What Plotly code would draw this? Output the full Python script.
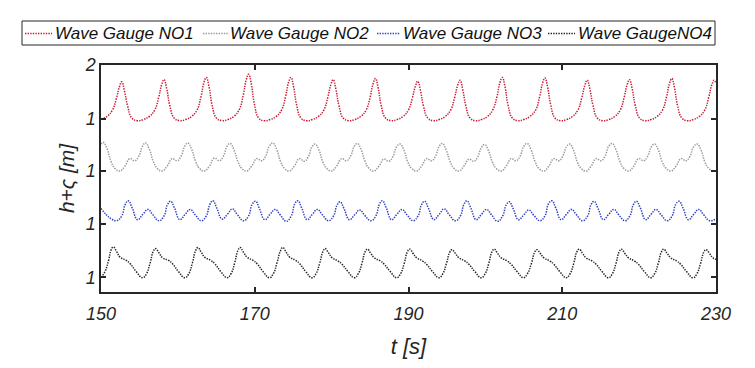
import plotly.graph_objects as go

# ---------------- data ----------------
NO1 = [
    (150.0, 1.00), (150.8, 1.05), (151.5, 1.17), (152.0, 1.38), (152.4, 1.60), (152.7, 1.69),
    (153.05, 1.52), (153.45, 1.25), (154.0, 1.02), (154.7, 0.97), (155.5, 0.99), (156.3, 1.05),
    (157.0, 1.17), (157.5, 1.40), (157.9, 1.64), (158.2, 1.73),
    (158.55, 1.56), (158.95, 1.25), (159.5, 1.02), (160.2, 0.97), (161.0, 0.99), (161.8, 1.05),
    (162.5, 1.17), (163.0, 1.41), (163.4, 1.68), (163.7, 1.77),
    (164.05, 1.60), (164.45, 1.26), (165.0, 1.02), (165.7, 0.97), (166.5, 0.99), (167.3, 1.05),
    (168.0, 1.18), (168.5, 1.44), (168.9, 1.73), (169.2, 1.83),
    (169.55, 1.65), (169.95, 1.28), (170.5, 1.02), (171.2, 0.97), (172.0, 0.99), (172.8, 1.05),
    (173.5, 1.17), (174.0, 1.41), (174.4, 1.68), (174.7, 1.77),
    (175.05, 1.60), (175.45, 1.26), (176.0, 1.02), (176.7, 0.97), (177.5, 0.99), (178.3, 1.05),
    (179.0, 1.17), (179.5, 1.40), (179.9, 1.64), (180.2, 1.73),
    (180.55, 1.56), (180.95, 1.25), (181.5, 1.02), (182.2, 0.97), (183.0, 0.99), (183.8, 1.05),
    (184.5, 1.17), (185.0, 1.40), (185.4, 1.66), (185.7, 1.75),
    (186.05, 1.58), (186.45, 1.25), (187.0, 1.02), (187.7, 0.97), (188.5, 0.99), (189.3, 1.05),
    (190.0, 1.17), (190.5, 1.39), (190.9, 1.61), (191.2, 1.70),
    (191.55, 1.53), (191.95, 1.24), (192.5, 1.02), (193.2, 0.97), (194.0, 0.99), (194.8, 1.05),
    (195.5, 1.17), (196.0, 1.40), (196.4, 1.63), (196.7, 1.72),
    (197.05, 1.55), (197.45, 1.25), (198.0, 1.02), (198.7, 0.97), (199.5, 0.99), (200.3, 1.05),
    (201.0, 1.18), (201.5, 1.41), (201.9, 1.68), (202.2, 1.77),
    (202.55, 1.60), (202.95, 1.26), (203.5, 1.02), (204.2, 0.97), (205.0, 0.99), (205.8, 1.05),
    (206.55, 1.17), (207.05, 1.41), (207.45, 1.67), (207.75, 1.76),
    (208.1, 1.59), (208.5, 1.26), (209.05, 1.02), (209.75, 0.97), (210.55, 0.99), (211.35, 1.05),
    (212.05, 1.17), (212.55, 1.40), (212.95, 1.63), (213.25, 1.72),
    (213.6, 1.55), (214.0, 1.25), (214.55, 1.02), (215.25, 0.97), (216.05, 0.99), (216.85, 1.05),
    (217.55, 1.17), (218.05, 1.40), (218.45, 1.64), (218.75, 1.73),
    (219.1, 1.56), (219.5, 1.25), (220.05, 1.02), (220.75, 0.97), (221.55, 0.99), (222.35, 1.05),
    (223.05, 1.17), (223.55, 1.40), (223.95, 1.66), (224.25, 1.75),
    (224.6, 1.58), (225.0, 1.25), (225.55, 1.02), (226.25, 0.97), (227.05, 0.99), (227.85, 1.05),
    (228.55, 1.17), (229.05, 1.40), (229.45, 1.63), (229.75, 1.72), (230.0, 1.66),
]

NO2 = [
    (150.0, 1.50), (150.3, 1.53),
    (150.8, 1.41), (151.3, 1.18), (151.8, 1.05), (152.45, 1.00), (153.1, 1.09), (153.75, 1.23),
    (154.4, 1.19), (154.9, 1.27), (155.4, 1.46), (155.8, 1.52),
    (156.3, 1.40), (156.8, 1.18), (157.3, 1.05), (157.95, 1.00), (158.6, 1.09), (159.25, 1.23),
    (159.9, 1.19), (160.4, 1.27), (160.9, 1.46), (161.3, 1.52),
    (161.8, 1.40), (162.3, 1.18), (162.8, 1.05), (163.45, 1.00), (164.1, 1.09), (164.75, 1.24),
    (165.4, 1.19), (165.9, 1.27), (166.4, 1.46), (166.8, 1.51),
    (167.3, 1.39), (167.8, 1.18), (168.3, 1.05), (168.95, 1.00), (169.6, 1.09), (170.25, 1.23),
    (170.9, 1.19), (171.4, 1.27), (171.9, 1.46), (172.35, 1.52),
    (172.85, 1.40), (173.35, 1.18), (173.85, 1.05), (174.5, 1.00), (175.15, 1.09), (175.8, 1.23),
    (176.45, 1.18), (176.95, 1.26), (177.45, 1.45), (177.85, 1.50),
    (178.35, 1.39), (178.85, 1.17), (179.35, 1.05), (180.0, 1.00), (180.65, 1.09), (181.3, 1.23),
    (181.95, 1.19), (182.45, 1.27), (182.95, 1.46), (183.35, 1.51),
    (183.85, 1.39), (184.35, 1.18), (184.85, 1.05), (185.5, 1.00), (186.15, 1.09), (186.8, 1.22),
    (187.45, 1.18), (187.95, 1.26), (188.45, 1.45), (188.9, 1.50),
    (189.4, 1.39), (189.9, 1.17), (190.4, 1.05), (191.05, 1.00), (191.7, 1.09), (192.35, 1.23),
    (193.0, 1.19), (193.5, 1.27), (194.0, 1.46), (194.4, 1.51),
    (194.9, 1.39), (195.4, 1.18), (195.9, 1.05), (196.55, 1.00), (197.2, 1.09), (197.85, 1.22),
    (198.5, 1.18), (199.0, 1.26), (199.5, 1.44), (199.9, 1.49),
    (200.4, 1.38), (200.9, 1.17), (201.4, 1.05), (202.05, 1.00), (202.7, 1.09), (203.35, 1.23),
    (204.0, 1.19), (204.5, 1.27), (205.0, 1.46), (205.45, 1.51),
    (205.95, 1.39), (206.45, 1.18), (206.95, 1.05), (207.6, 1.00), (208.25, 1.09), (208.9, 1.23),
    (209.55, 1.19), (210.05, 1.27), (210.55, 1.45), (210.95, 1.50),
    (211.45, 1.39), (211.95, 1.17), (212.45, 1.05), (213.1, 1.00), (213.75, 1.09), (214.4, 1.23),
    (215.05, 1.19), (215.55, 1.27), (216.05, 1.46), (216.5, 1.51),
    (217.0, 1.39), (217.5, 1.18), (218.0, 1.05), (218.65, 1.00), (219.3, 1.09), (219.95, 1.23),
    (220.6, 1.19), (221.1, 1.27), (221.6, 1.45), (222.0, 1.50),
    (222.5, 1.39), (223.0, 1.17), (223.5, 1.05), (224.15, 1.00), (224.8, 1.09), (225.45, 1.23),
    (226.1, 1.19), (226.6, 1.27), (227.1, 1.45), (227.55, 1.50),
    (228.05, 1.39), (228.55, 1.17), (229.05, 1.05), (229.7, 1.00), (230.0, 1.02),
]

NO3 = [
    (150.0, 1.29), (150.7, 1.17), (151.4, 1.09), (152.05, 1.06), (152.7, 1.15), (153.15, 1.36),
    (153.55, 1.43),
    (154.05, 1.30), (154.75, 1.08), (155.45, 1.18), (156.1, 1.27), (156.75, 1.17), (157.55, 1.06),
    (158.2, 1.15), (158.65, 1.36), (159.05, 1.42),
    (159.55, 1.30), (160.25, 1.08), (160.95, 1.18), (161.6, 1.27), (162.25, 1.17), (163.05, 1.06),
    (163.7, 1.15), (164.15, 1.36), (164.55, 1.43),
    (165.05, 1.30), (165.75, 1.09), (166.45, 1.18), (167.1, 1.28), (167.75, 1.17), (168.55, 1.06),
    (169.2, 1.15), (169.65, 1.36), (170.1, 1.42),
    (170.6, 1.29), (171.3, 1.08), (172.0, 1.18), (172.65, 1.27), (173.3, 1.17), (174.1, 1.05),
    (174.75, 1.15), (175.2, 1.37), (175.6, 1.43),
    (176.1, 1.30), (176.8, 1.08), (177.5, 1.18), (178.15, 1.27), (178.8, 1.17), (179.6, 1.06),
    (180.25, 1.15), (180.7, 1.35), (181.1, 1.41),
    (181.6, 1.29), (182.3, 1.08), (183.0, 1.17), (183.65, 1.26), (184.3, 1.16), (185.1, 1.06),
    (185.75, 1.15), (186.2, 1.36), (186.6, 1.43),
    (187.1, 1.30), (187.8, 1.08), (188.5, 1.18), (189.15, 1.27), (189.8, 1.17), (190.6, 1.06),
    (191.25, 1.15), (191.7, 1.36), (192.1, 1.42),
    (192.6, 1.29), (193.3, 1.08), (194.0, 1.18), (194.65, 1.28), (195.3, 1.17), (196.1, 1.06),
    (196.75, 1.15), (197.2, 1.36), (197.6, 1.43),
    (198.1, 1.30), (198.8, 1.08), (199.5, 1.18), (200.15, 1.27), (200.8, 1.17), (201.6, 1.05),
    (202.25, 1.15), (202.7, 1.35), (203.1, 1.41),
    (203.6, 1.29), (204.3, 1.08), (205.0, 1.17), (205.65, 1.26), (206.3, 1.16), (207.1, 1.06),
    (207.75, 1.15), (208.2, 1.37), (208.65, 1.43),
    (209.15, 1.30), (209.85, 1.08), (210.55, 1.18), (211.2, 1.27), (211.85, 1.17), (212.65, 1.06),
    (213.3, 1.15), (213.75, 1.36), (214.15, 1.42),
    (214.65, 1.29), (215.35, 1.08), (216.05, 1.18), (216.7, 1.27), (217.35, 1.17), (218.15, 1.06),
    (218.8, 1.15), (219.25, 1.36), (219.65, 1.42),
    (220.15, 1.30), (220.85, 1.08), (221.55, 1.18), (222.2, 1.27), (222.85, 1.17), (223.65, 1.06),
    (224.3, 1.15), (224.75, 1.36), (225.2, 1.42),
    (225.7, 1.30), (226.4, 1.08), (227.1, 1.18), (227.75, 1.27), (228.4, 1.17), (229.2, 1.06),
    (230.0, 1.10),
]

NO4 = [
    (150.0, 1.00), (150.5, 1.10), (151.0, 1.32), (151.3, 1.50), (151.6, 1.56),
    (152.05, 1.47), (152.5, 1.37), (153.3, 1.31), (153.8, 1.25), (154.6, 1.10), (155.4, 0.99),
    (155.9, 1.06), (156.4, 1.27), (156.8, 1.48), (157.1, 1.53),
    (157.55, 1.45), (158.0, 1.36), (158.8, 1.31), (159.3, 1.25), (160.1, 1.10), (160.9, 0.99),
    (161.4, 1.06), (161.9, 1.27), (162.3, 1.49), (162.6, 1.55),
    (163.05, 1.46), (163.5, 1.37), (164.3, 1.31), (164.8, 1.25), (165.6, 1.10), (166.4, 0.99),
    (166.9, 1.06), (167.4, 1.27), (167.8, 1.49), (168.1, 1.55),
    (168.55, 1.46), (169.0, 1.37), (169.8, 1.31), (170.3, 1.25), (171.1, 1.10), (171.9, 0.99),
    (172.4, 1.06), (172.9, 1.27), (173.35, 1.49), (173.65, 1.55),
    (174.1, 1.46), (174.55, 1.37), (175.35, 1.31), (175.85, 1.25), (176.65, 1.10), (177.45, 0.99),
    (177.95, 1.06), (178.45, 1.26), (178.85, 1.47), (179.15, 1.53),
    (179.6, 1.45), (180.05, 1.36), (180.85, 1.30), (181.35, 1.24), (182.15, 1.10), (182.95, 0.99),
    (183.45, 1.06), (183.95, 1.26), (184.35, 1.47), (184.65, 1.52),
    (185.1, 1.44), (185.55, 1.36), (186.35, 1.30), (186.85, 1.24), (187.65, 1.10), (188.45, 0.99),
    (188.95, 1.06), (189.45, 1.26), (189.85, 1.47), (190.15, 1.52),
    (190.6, 1.44), (191.05, 1.36), (191.85, 1.30), (192.35, 1.24), (193.15, 1.10), (193.95, 0.99),
    (194.45, 1.06), (194.95, 1.26), (195.35, 1.46), (195.65, 1.51),
    (196.1, 1.44), (196.55, 1.36), (197.35, 1.30), (197.85, 1.24), (198.65, 1.10), (199.45, 0.99),
    (199.95, 1.06), (200.45, 1.26), (200.85, 1.47), (201.15, 1.52),
    (201.6, 1.44), (202.05, 1.36), (202.85, 1.30), (203.35, 1.24), (204.15, 1.10), (204.95, 0.99),
    (205.45, 1.06), (206.0, 1.26), (206.4, 1.46), (206.7, 1.51),
    (207.15, 1.44), (207.6, 1.36), (208.4, 1.30), (208.9, 1.24), (209.7, 1.10), (210.5, 0.99),
    (211.0, 1.06), (211.5, 1.26), (211.9, 1.47), (212.2, 1.52),
    (212.65, 1.44), (213.1, 1.36), (213.9, 1.30), (214.4, 1.24), (215.2, 1.10), (216.0, 0.99),
    (216.5, 1.06), (217.0, 1.26), (217.4, 1.47), (217.7, 1.52),
    (218.15, 1.44), (218.6, 1.36), (219.4, 1.30), (219.9, 1.24), (220.7, 1.10), (221.5, 0.99),
    (222.0, 1.06), (222.5, 1.26), (222.9, 1.47), (223.2, 1.52),
    (223.65, 1.44), (224.1, 1.36), (224.9, 1.30), (225.4, 1.24), (226.2, 1.10), (227.0, 0.99),
    (227.5, 1.06), (228.0, 1.26), (228.4, 1.46), (228.7, 1.51),
    (229.15, 1.44), (229.6, 1.36), (230.0, 1.33),
]

series_names = ["Wave Gauge NO1", "Wave Gauge NO2", "Wave Gauge NO3", "Wave GaugeNO4"]
series_data = [NO1, NO2, NO3, NO4]
series_shift = [0.0, -0.963, -1.944, -2.93]   # vertical stacking of the gauges
x_ticks = [150, 170, 190, 210, 230]
y_tick_text = ["2", "1", "1", "1", "1"]

# ---------------- styling ----------------
colors = ["#c81a32", "#9a9a9a", "#3040c0", "#262626"]
FONT = "Liberation Sans, Arial, sans-serif"
AX = "#262626"
DOT = "1.4px,1.2px"

# page body has an 8 px default margin; figure is sized so the plot lands where intended
W, H = 747, 360
ML, MT, PW, PH = 93, 57, 615, 227
OFF = 8

def px_x(px):   # screen pixel -> paper x
    return (px - OFF - ML) / PW

def px_y(py):   # screen pixel -> paper y
    return (MT + PH - (py - OFF)) / PH

fig = go.Figure()
for name, data, shift, col in zip(series_names, series_data, series_shift, colors):
    t = [p[0] for p in data]
    h = [p[1] + shift for p in data]
    fig.add_trace(go.Scatter(
        x=t, y=h, mode="lines", name=name, showlegend=False,
        line=dict(color=col, width=1.5, dash=DOT, shape="spline", smoothing=1.3),
    ))

y_tick_vals = [2.0] + [1.0 + s for s in series_shift]

# legend box drawn as shapes + text
shapes = [dict(type="rect", xref="paper", yref="paper",
               x0=px_x(22), x1=px_x(715), y0=px_y(45), y1=px_y(21),
               line=dict(color=AX, width=1), fillcolor="white", layer="above")]
annotations = []
sample_x = [(25, 52), (203, 228), (377, 400), (548, 575)]
text_x = [53, 228, 401, 576]
for name, col, (a, b), tx in zip(series_names, colors, sample_x, text_x):
    shapes.append(dict(type="line", xref="paper", yref="paper",
                       x0=px_x(a), x1=px_x(b), y0=px_y(33.5), y1=px_y(33.5),
                       line=dict(color=col, width=1.5, dash=DOT), layer="above"))
    annotations.append(dict(text=name, xref="paper", yref="paper", x=px_x(tx), y=px_y(33.5),
                            xanchor="left", yanchor="middle", showarrow=False,
                            font=dict(family=FONT, size=17, color="#111", style="italic")))

fig.update_layout(
    width=W, height=H,
    margin=dict(l=ML, r=W - ML - PW, t=MT, b=H - MT - PH, autoexpand=False),
    paper_bgcolor="white", plot_bgcolor="white",
    font=dict(family=FONT, color=AX),
    showlegend=False,
    shapes=shapes, annotations=annotations,
    xaxis=dict(
        range=[150, 230], tickvals=x_ticks, ticktext=[str(v) for v in x_ticks],
        showgrid=False, zeroline=False, automargin=False,
        showline=True, linecolor=AX, linewidth=1.5, mirror="ticks",
        ticks="inside", ticklen=5, tickwidth=1.5, tickcolor=AX,
        ticklabelstandoff=5,
        tickfont=dict(family=FONT, size=18, color=AX, style="italic"),
        title=dict(text="t [s]", font=dict(family=FONT, size=22, color=AX, style="italic"), standoff=15),
    ),
    yaxis=dict(
        range=[-2.204, 2.001], tickvals=y_tick_vals, ticktext=y_tick_text,
        showgrid=False, zeroline=False, automargin=False,
        showline=True, linecolor=AX, linewidth=1.5, mirror="ticks",
        ticks="inside", ticklen=5, tickwidth=1.5, tickcolor=AX,
        tickfont=dict(family=FONT, size=18, color=AX, style="italic"),
        title=dict(text="h+ς [m]", font=dict(family=FONT, size=21, color=AX, style="italic"), standoff=4),
    ),
)

fig.write_html("out.html")
